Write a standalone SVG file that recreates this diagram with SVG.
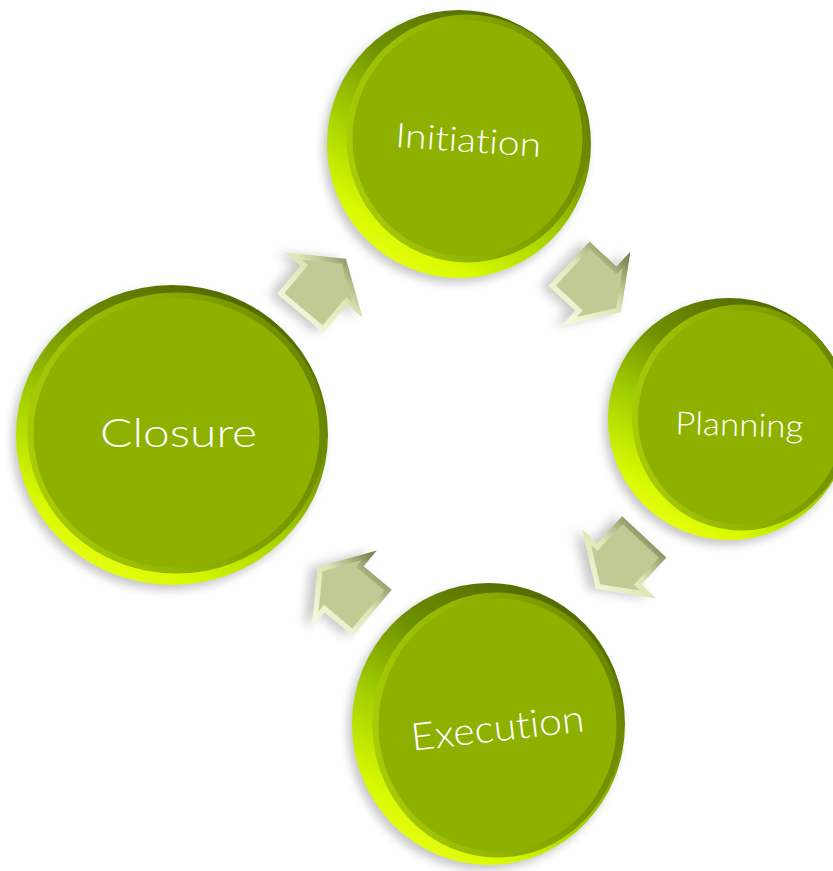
<svg xmlns="http://www.w3.org/2000/svg" width="833" height="871" viewBox="0 0 833 871">
<defs>
<linearGradient id="side" x1="0.78" y1="0" x2="0.22" y2="1">
<stop offset="0" stop-color="#4b6300"/>
<stop offset="0.35" stop-color="#6f9000"/>
<stop offset="0.62" stop-color="#a6d200"/>
<stop offset="0.85" stop-color="#d8f900"/>
<stop offset="1" stop-color="#ecff1c"/>
</linearGradient>
<linearGradient id="rim" x1="0" y1="0.6" x2="1" y2="0.4">
<stop offset="0" stop-color="#a8cc08"/>
<stop offset="0.5" stop-color="#8db100"/>
<stop offset="1" stop-color="#6a8700"/>
</linearGradient>
<linearGradient id="a1" gradientUnits="userSpaceOnUse" x1="-40" y1="-3.5" x2="40" y2="3.5">
<stop offset="0" stop-color="#f6f8dc"/><stop offset="0.55" stop-color="#dfe4b4"/><stop offset="1" stop-color="#7f8752"/>
</linearGradient>
<linearGradient id="a2" gradientUnits="userSpaceOnUse" x1="-1.4" y1="40" x2="1.4" y2="-40">
<stop offset="0" stop-color="#f6f8dc"/><stop offset="0.55" stop-color="#dfe4b4"/><stop offset="1" stop-color="#7f8752"/>
</linearGradient>
<linearGradient id="a3" gradientUnits="userSpaceOnUse" x1="40" y1="1.4" x2="-40" y2="-1.4">
<stop offset="0" stop-color="#f6f8dc"/><stop offset="0.55" stop-color="#dfe4b4"/><stop offset="1" stop-color="#7f8752"/>
</linearGradient>
<linearGradient id="a4" gradientUnits="userSpaceOnUse" x1="3.5" y1="-40" x2="-3.5" y2="40">
<stop offset="0" stop-color="#f6f8dc"/><stop offset="0.55" stop-color="#dfe4b4"/><stop offset="1" stop-color="#7f8752"/>
</linearGradient>
<filter id="blur" x="-30%" y="-30%" width="160%" height="160%">
<feGaussianBlur stdDeviation="5"/>
</filter>
<polygon id="arrowOuter" points="-33,-28 1,-28 1,-47 33,0 1,47 1,28 -33,28"/>
<polygon id="arrowInner" points="-28,-23 6,-23 6,-31 27,0 6,31 6,23 -28,23"/>
</defs>
<style>
.shadow{fill:#000;opacity:0.22;filter:url(#blur)}
.side{fill:url(#side)}
.face{fill:#8eb100;stroke:url(#rim);stroke-width:6}
.label{fill:#ffffff;font-family:Lato,"Open Sans","Liberation Sans",sans-serif;font-weight:300;text-anchor:middle;font-variant-ligatures:none;font-feature-settings:"liga" 0}
.ainner{fill:#c1c995}
.ashadow{fill:#000;opacity:0.22;filter:url(#blur)}
</style>
<rect width="833" height="871" fill="#ffffff"/>

<g id="connectors">
<g id="arrow-closure-initiation" transform="translate(323,286) rotate(-50) scale(1.08)">
<use href="#arrowOuter" class="ashadow" transform="translate(-5,-5)"/>
<use href="#arrowOuter" fill="url(#a1)"/>
<use href="#arrowInner" class="ainner"/>
</g>
<g id="arrow-initiation-planning" transform="translate(595,288) rotate(43) scale(1.08)">
<use href="#arrowOuter" class="ashadow" transform="translate(-5,5)"/>
<use href="#arrowOuter" fill="url(#a2)"/>
<use href="#arrowInner" class="ainner"/>
</g>
<g id="arrow-planning-execution" transform="translate(620,563) rotate(133) scale(1.08)">
<use href="#arrowOuter" class="ashadow" transform="translate(5,5)"/>
<use href="#arrowOuter" fill="url(#a3)"/>
<use href="#arrowInner" class="ainner"/>
</g>
<g id="arrow-execution-closure" transform="translate(345,590) rotate(220) scale(1.08)">
<use href="#arrowOuter" class="ashadow" transform="translate(5,-5)"/>
<use href="#arrowOuter" fill="url(#a4)"/>
<use href="#arrowInner" class="ainner"/>
</g>
</g>

<g id="node-initiation">
<ellipse class="shadow" cx="455" cy="149" rx="132" ry="134"/>
<ellipse class="side" cx="459" cy="144" rx="132" ry="134"/>
<ellipse class="face" cx="467.5" cy="138.5" rx="118" ry="121"/>
<text class="label" x="467.5" y="152" font-size="34" textLength="146" lengthAdjust="spacingAndGlyphs" transform="rotate(4 467.5 152)">Initiation</text>
</g>

<g id="node-planning">
<ellipse class="shadow" cx="725" cy="424" rx="121" ry="121"/>
<ellipse class="side" cx="729" cy="419" rx="121" ry="121"/>
<ellipse class="face" cx="741" cy="417.5" rx="106" ry="110"/>
<text class="label" x="739" y="436" font-size="32" textLength="128" lengthAdjust="spacingAndGlyphs" transform="rotate(1.5 739 436)">Planning</text>
</g>

<g id="node-execution">
<ellipse class="shadow" cx="484" cy="729" rx="136.5" ry="141"/>
<ellipse class="side" cx="488.5" cy="724" rx="136.5" ry="141"/>
<ellipse class="face" cx="497.5" cy="725" rx="122" ry="129.5"/>
<text class="label" x="499" y="741" font-size="38" textLength="174" lengthAdjust="spacingAndGlyphs" transform="rotate(-6.5 499 741)">Execution</text>
</g>

<g id="node-closure">
<ellipse class="shadow" cx="168" cy="440" rx="156" ry="150"/>
<ellipse class="side" cx="172" cy="435" rx="156" ry="150"/>
<ellipse class="face" cx="176.5" cy="433" rx="146" ry="137.5"/>
<text class="label" x="178.5" y="447" font-size="39" textLength="157" lengthAdjust="spacingAndGlyphs">Closure</text>
</g>
</svg>
